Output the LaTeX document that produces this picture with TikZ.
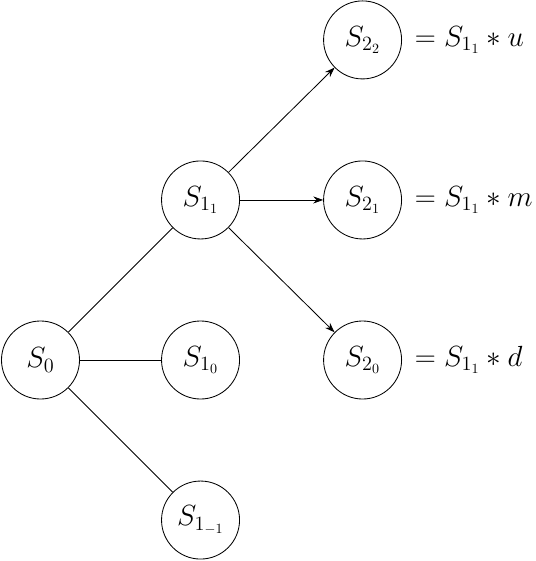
\documentclass[tikz,border=0pt]{standalone}
\usepackage{amsmath}
\usetikzlibrary{arrows.meta,positioning}

\begin{document}
\begin{tikzpicture}[
  x=0.025cm, y=-0.025cm,
  big/.style={font=\fontsize{20.7}{25}\selectfont},
  state/.style={draw, circle, line width=0.6pt, minimum size=1.95cm,
                inner sep=0pt, big},
  edge/.style={line width=0.6pt},
  step arrow/.style={line width=0.6pt, -{Stealth[length=7pt, width=5pt]}},
  on grid
]
  \useasboundingbox (0,0) rectangle (536,561);

  \node[state] (s0) at (40.5,360) {$S_0$};
  \node[state, above right=4cm and 4cm of s0] (s11) {$S_{1_1}$};
  \node[state, right=4cm of s0]               (s10) {$S_{1_0}$};
  \node[state, below right=4cm and 4cm of s0] (s1m) {$S_{1_{-1}}$};

  \node[state, above right=4cm and 4.05cm of s11] (s22) {$S_{2_2}$};
  \node[state, right=4.05cm of s11]               (s21) {$S_{2_1}$};
  \node[state, below right=4cm and 4.05cm of s11] (s20) {$S_{2_0}$};

  \node[anchor=west, big] (r22) at ([xshift=0.2cm]s22.east) {$= S_{1_1} * u$};
  \node[anchor=west, big] (r21) at ([xshift=0.2cm]s21.east) {$= S_{1_1} * m$};
  \node[anchor=west, big] (r20) at ([xshift=0.2cm]s20.east) {$= S_{1_1} * d$};

  \draw[edge] (s0) -- (s11);
  \draw[edge] (s0) -- (s10);
  \draw[edge] (s0) -- (s1m);

  \draw[step arrow] (s11) -- (s22);
  \draw[step arrow] (s11) -- (s21);
  \draw[step arrow] (s11) -- (s20);
\end{tikzpicture}
\end{document}
